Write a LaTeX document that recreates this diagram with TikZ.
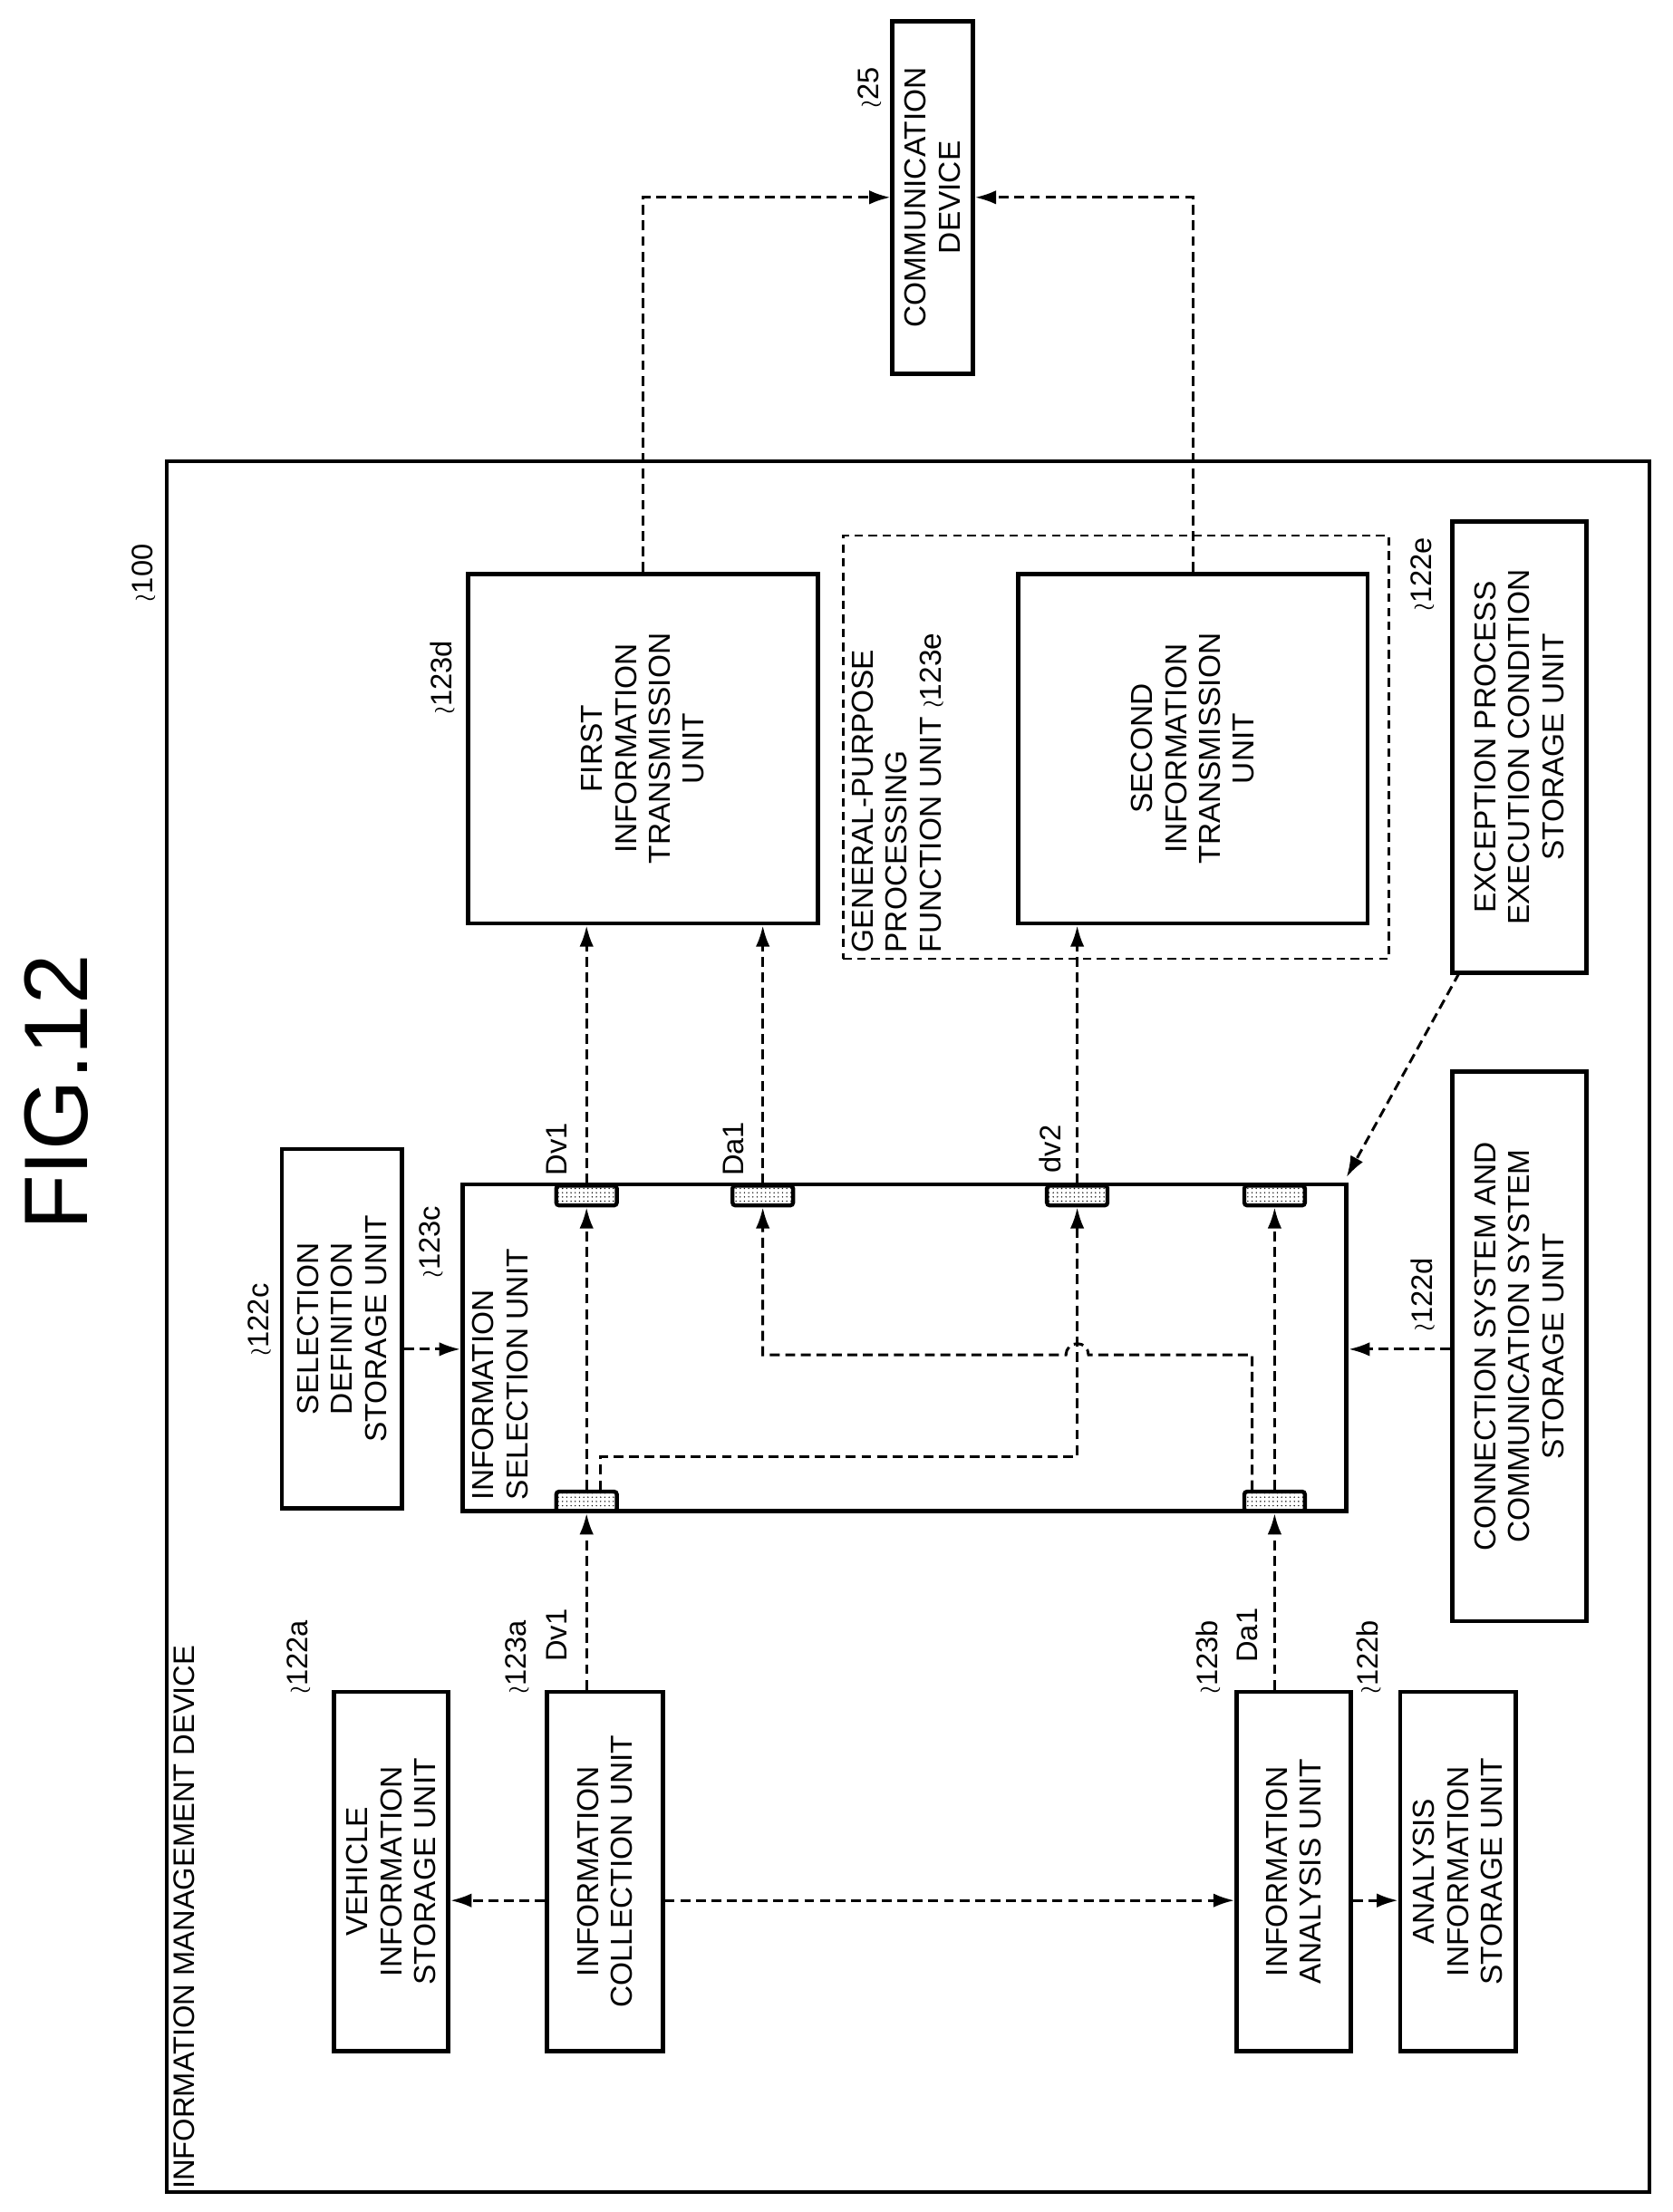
\documentclass[tikz,border=0pt]{standalone}
\usepackage{fontspec}
\setmainfont{Liberation Sans}
\usetikzlibrary{arrows.meta,patterns,calc}
\begin{document}
\begin{tikzpicture}[x=1pt,y=-1pt,
  box/.style={draw,line width=3pt,rotate=90,align=center,font=\fontsize{21.5}{24}\selectfont,inner sep=0pt},
  lbl/.style={rotate=90,font=\fontsize{21}{24}\selectfont,inner sep=0pt},
  da/.style={line width=1.9pt,dash pattern=on 7pt off 4pt},
  ar/.style={da,-{Latex[length=15pt,width=10pt]}},
  port/.style={draw,line width=2.8pt,rounded corners=2pt,pattern=dots,minimum width=43pt,minimum height=14pt,inner sep=0pt}]
\useasboundingbox (0,0) rectangle (1186,1569);
\node[rotate=90,font=\fontsize{64}{64}\selectfont,inner sep=0pt] (fig) at (40,775) {FIG.12};
% outer device
\node[draw,line width=2.5pt,minimum width=1052pt,minimum height=1228pt,inner sep=0pt] (dev) at (644,941) {};
\node[lbl,anchor=north west] (devt) at (123,1553) {INFORMATION MANAGEMENT DEVICE};
\node[lbl,anchor=west] (l100) at (103,427) {$\wr$100};
% boxes
\node[box,minimum width=250pt,minimum height=57pt] (comm) at (661.5,140) {COMMUNICATION\\DEVICE};
\node[lbl,anchor=west] (l25) at (618,77) {$\wr$25};
\node[box,minimum width=255pt,minimum height=81pt] (veh) at (277.5,1327.5) {VEHICLE\\INFORMATION\\STORAGE UNIT};
\node[box,minimum width=255pt,minimum height=82pt] (coll) at (429,1327.5) {INFORMATION\\COLLECTION UNIT};
\node[box,minimum width=255pt,minimum height=81pt] (ana) at (917.5,1327.5) {INFORMATION\\ANALYSIS UNIT};
\node[box,minimum width=255pt,minimum height=82pt] (anas) at (1034,1327.5) {ANALYSIS\\INFORMATION\\STORAGE UNIT};
\node[box,minimum width=255pt,minimum height=85pt] (seldef) at (242.5,942.5) {SELECTION\\DEFINITION\\STORAGE UNIT};
\node[box,minimum width=232pt,minimum height=627pt] (sel) at (641.5,956) {};
\node[lbl,anchor=north west,align=left,font=\fontsize{21.5}{24}\selectfont] (selt) at (335,1064) {INFORMATION\\SELECTION UNIT};
\node[box,minimum width=390pt,minimum height=95pt] (conn) at (1077.5,955) {CONNECTION SYSTEM AND\\COMMUNICATION SYSTEM\\STORAGE UNIT};
\node[box,minimum width=320pt,minimum height=95pt] (exc) at (1077.5,530) {EXCEPTION PROCESS\\EXECUTION CONDITION\\STORAGE UNIT};
\node[box,minimum width=248pt,minimum height=248pt] (first) at (456,531) {FIRST\\INFORMATION\\TRANSMISSION\\UNIT};
\node[draw,line width=1.6pt,dash pattern=on 6pt off 4pt,minimum width=387pt,minimum height=300pt,inner sep=0pt] (gp) at (791.5,530) {};
\node[lbl,anchor=north west,align=left,font=\fontsize{21.5}{24}\selectfont] (gpt) at (604,676) {GENERAL-PURPOSE\\PROCESSING\\FUNCTION UNIT $\wr$123e};
\node[box,minimum width=248pt,minimum height=248pt] (second) at (846,531) {SECOND\\INFORMATION\\TRANSMISSION\\UNIT};
% reference labels
\node[lbl,anchor=west] (l122a) at (213,1202) {$\wr$122a};
\node[lbl,anchor=west] (l123a) at (368,1202) {$\wr$123a};
\node[lbl,anchor=west] (l123b) at (858,1202) {$\wr$123b};
\node[lbl,anchor=west] (l122b) at (972,1202) {$\wr$122b};
\node[lbl,anchor=west] (l122c) at (185,962) {$\wr$122c};
\node[lbl,anchor=west] (l123c) at (307,907) {$\wr$123c};
\node[lbl,anchor=west] (l123d) at (315,507) {$\wr$123d};
\node[lbl,anchor=west] (l122e) at (1010,434) {$\wr$122e};
\node[lbl,anchor=west] (l122d) at (1010,945) {$\wr$122d};
\node[lbl] (tdv1) at (395,1160) {Dv1};
\node[lbl] (tda1) at (885,1160) {Da1};
\node[lbl] (udv1) at (395,815) {Dv1};
\node[lbl] (uda1) at (520,815) {Da1};
\node[lbl] (udv2) at (745,815) {dv2};
% ports
\node[port] (pt1) at (416,848) {};
\node[port] (pt2) at (541,848) {};
\node[port] (pt3) at (764,848) {};
\node[port] (pt4) at (904,848) {};
\node[port] (pb1) at (416,1065) {};
\node[port] (pb4) at (904,1065) {};
% collection / analysis line
\coordinate (h) at (0,1348);
\draw[ar] (coll.north|-h) -- (veh.south|-h);
\draw[ar] (coll.south|-h) -- (ana.north|-h);
\draw[ar] (ana.south|-h) -- (anas.north|-h);
% into selection unit
\draw[ar] (pb1|-coll.east) -- (pb1.south);
\draw[ar] (pb4|-ana.east) -- (pb4.south);
\draw[ar] (seldef.south|-0,957) -- (sel.north|-0,957);
\draw[ar] (conn.north|-0,957) -- (sel.south|-0,957);
\coordinate (ex) at (1035,690);
\draw[ar] (ex) -- (955,835);
% internal routing
\draw[ar] (pb1.north) -- (pt1.south);
\draw[ar] (426,1057) -- (426,1033) -- (764,1033) -- (pt3.south);
\draw[ar] (888,1057) -- (888,961) -- (772,961) arc[start angle=0,end angle=-180,radius=8] -- (541,961) -- (pt2.south);
\draw[ar] (pb4.north) -- (pt4.south);
% outputs
\draw[ar] (pt1.north) -- (pt1|-first.west);
\draw[ar] (pt2.north) -- (pt2|-first.west);
\draw[ar] (pt3.north) -- (pt3|-second.west);
\draw[ar] (first.east) -- (first.east|-comm) -- (comm.north);
\draw[ar] (second.east) -- (second.east|-comm) -- (comm.south);
\end{tikzpicture}
\end{document}
